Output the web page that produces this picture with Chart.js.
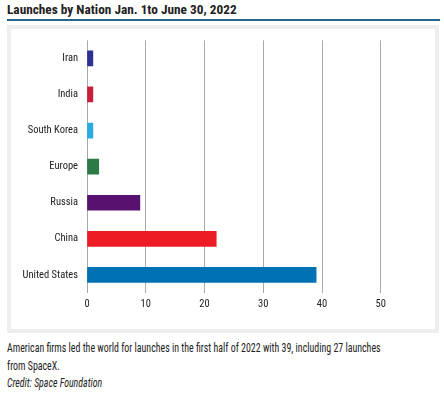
<!DOCTYPE html>
<html>
<head>
<meta charset="utf-8">
<script src="https://cdn.jsdelivr.net/npm/chart.js@4.4.1/dist/chart.umd.min.js"></script>
<style>
  body { margin: 0; background: #fff; width: 444px; height: 395px; overflow: hidden;
         font-family: Roboto, sans-serif; font-stretch: condensed; color: #222; }
  #title { position: absolute; left: 7px; top: 2px; font-size: 13.3px; font-weight: bold; color: #222; white-space: nowrap; }
  #rule { position: absolute; left: 7px; top: 19px; width: 433px; height: 2px; background: #24648f; }
  #panel { position: absolute; left: 7px; top: 25px; width: 424px; height: 300px;
           border: 4px solid #eeeeee; background: #fff; }
  #chart { position: absolute; left: 0; top: -4px; }
  #cap { position: absolute; left: 7px; top: 340px; font-size: 12px; line-height: 17.5px; color: #222;
         white-space: nowrap; transform: scaleX(0.825); transform-origin: 0 0; }
  #cap i { display: block; }
</style>
</head>
<body>
<div id="title">Launches by Nation Jan. 1to June 30, 2022</div>
<div id="rule"></div>
<div id="panel"><canvas id="chart" width="424" height="304"></canvas></div>
<div id="cap">American firms led the world for launches in the first half of 2022 with 39, including 27 launches<br>from SpaceX.<i>Credit: Space Foundation</i></div>
<script>
const nations = ['Iran', 'India', 'South Korea', 'Europe', 'Russia', 'China', 'United States'];
const launches = [1, 1, 1, 2, 9, 22, 39];
const barColors = ['#2e3192', '#c8203a', '#29aae1', '#2c7a47', '#57116f', '#ed1c24', '#0071b3'];
const xTicks = [0, 10, 20, 30, 40, 50];

// canvas font shorthand accepts a stretch keyword, pass it through "weight"
const tickFont = { family: 'Roboto, sans-serif', weight: 'condensed', size: 10.5 };

const ctx = document.getElementById('chart').getContext('2d');
new Chart(ctx, {
    type: 'bar',
    data: {
        labels: nations,
        datasets: [
            {
                label: 'Launches',
                data: launches,
                backgroundColor: barColors,
                barThickness: 15,
            },
        ],
    },
    options: {
        indexAxis: 'y',
        responsive: false,
        animation: false,
        layout: { padding: { top: 11, right: 19, left: 0, bottom: 0 } },
        plugins: { legend: { display: false }, tooltip: { enabled: false } },
        scales: {
            x: {
                min: 0,
                max: 56,
                afterBuildTicks: scale => {
                    scale.ticks = xTicks.map(v => ({ value: v }));
                },
                grid: { color: '#aaaaaa', drawTicks: false },
                border: { display: false },
                ticks: { padding: 5, color: '#222', font: tickFont },
                afterFit: scale => { scale.height = 36; },
            },
            y: {
                grid: { display: false, drawTicks: false },
                border: { display: false },
                ticks: { padding: 9, color: '#222', font: tickFont },
                afterFit: scale => { scale.width = 76; },
            },
        },
    },
});
</script>
</body>
</html>
